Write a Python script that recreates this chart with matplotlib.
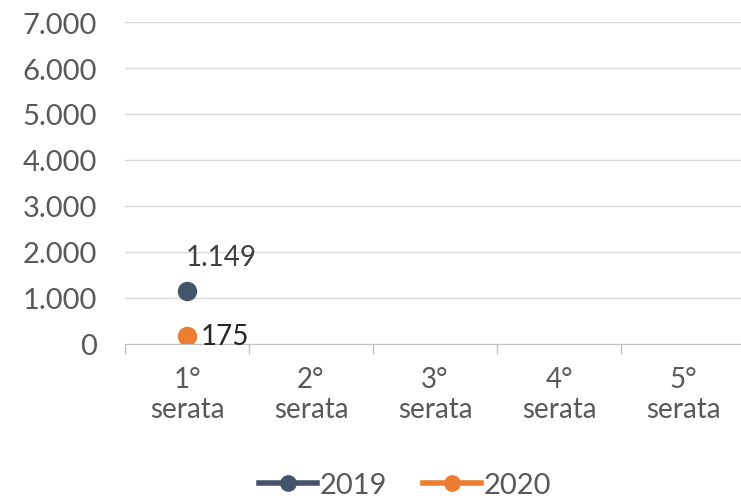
import matplotlib.pyplot as plt
import numpy as np

categories = ["1°\nserata", "2°\nserata", "3°\nserata", "4°\nserata", "5°\nserata"]
series_2019 = [1149, np.nan, np.nan, np.nan, np.nan]
series_2020 = [175, np.nan, np.nan, np.nan, np.nan]
y_ticks = [0, 1000, 2000, 3000, 4000, 5000, 6000, 7000]

plt.rcParams["font.family"] = ["Lato", "DejaVu Sans"]
text_color = "#595959"

fig = plt.figure(figsize=(7.41, 5.02), dpi=100)
ax = fig.add_axes([125 / 741, 1 - 345 / 502, 620 / 741, 322 / 502])

x = np.arange(len(categories))
ax.plot(x, series_2019, color="#44546A", marker="o", markersize=13, linewidth=3.5, label="2019")
ax.plot(x, series_2020, color="#ED7D31", marker="o", markersize=13, linewidth=3.5, label="2020")

ax.annotate("1.149", (x[0], series_2019[0]), xytext=(-1, 15), textcoords="offset points",
            ha="left", va="bottom", fontsize=20, color="#404040")
ax.annotate("175", (x[0], series_2020[0]), xytext=(10, 0), textcoords="offset points",
            ha="left", va="center", fontsize=20, color="#262626")

ax.set_xlim(-0.5, len(categories) - 0.5)
ax.set_ylim(0, 7000)
ax.set_yticks(y_ticks)
ax.set_yticklabels([f"{v:,}".replace(",", ".") for v in y_ticks], fontsize=21, color=text_color)
ax.set_xticks(x)
ax.set_xticklabels(categories, fontsize=20, color=text_color, linespacing=1.2)
ax.set_xticks(np.arange(-0.5, len(categories)), minor=True)
ax.tick_params(axis="x", which="major", length=0, pad=16)
ax.tick_params(axis="x", which="minor", length=7, color="#bfbfbf", width=1)
ax.tick_params(axis="y", length=0, pad=20)

ax.grid(axis="y", color="#d9d9d9", linewidth=1)
ax.set_axisbelow(True)
for side in ["top", "right", "left"]:
    ax.spines[side].set_visible(False)
ax.spines["bottom"].set_color("#bfbfbf")

handles = [
    plt.Line2D([], [], color="#44546A", marker="o", markersize=11, linewidth=4),
    plt.Line2D([], [], color="#ED7D31", marker="o", markersize=11, linewidth=4),
]
fig.legend(handles, ["2019", "2020"], loc="center", bbox_to_anchor=(405 / 741, 1 - 486 / 502), ncol=2,
           frameon=False, fontsize=21, labelcolor=text_color, handlelength=2.0, columnspacing=1.2,
           handletextpad=0.1)

fig.savefig("out.png", dpi=100)
